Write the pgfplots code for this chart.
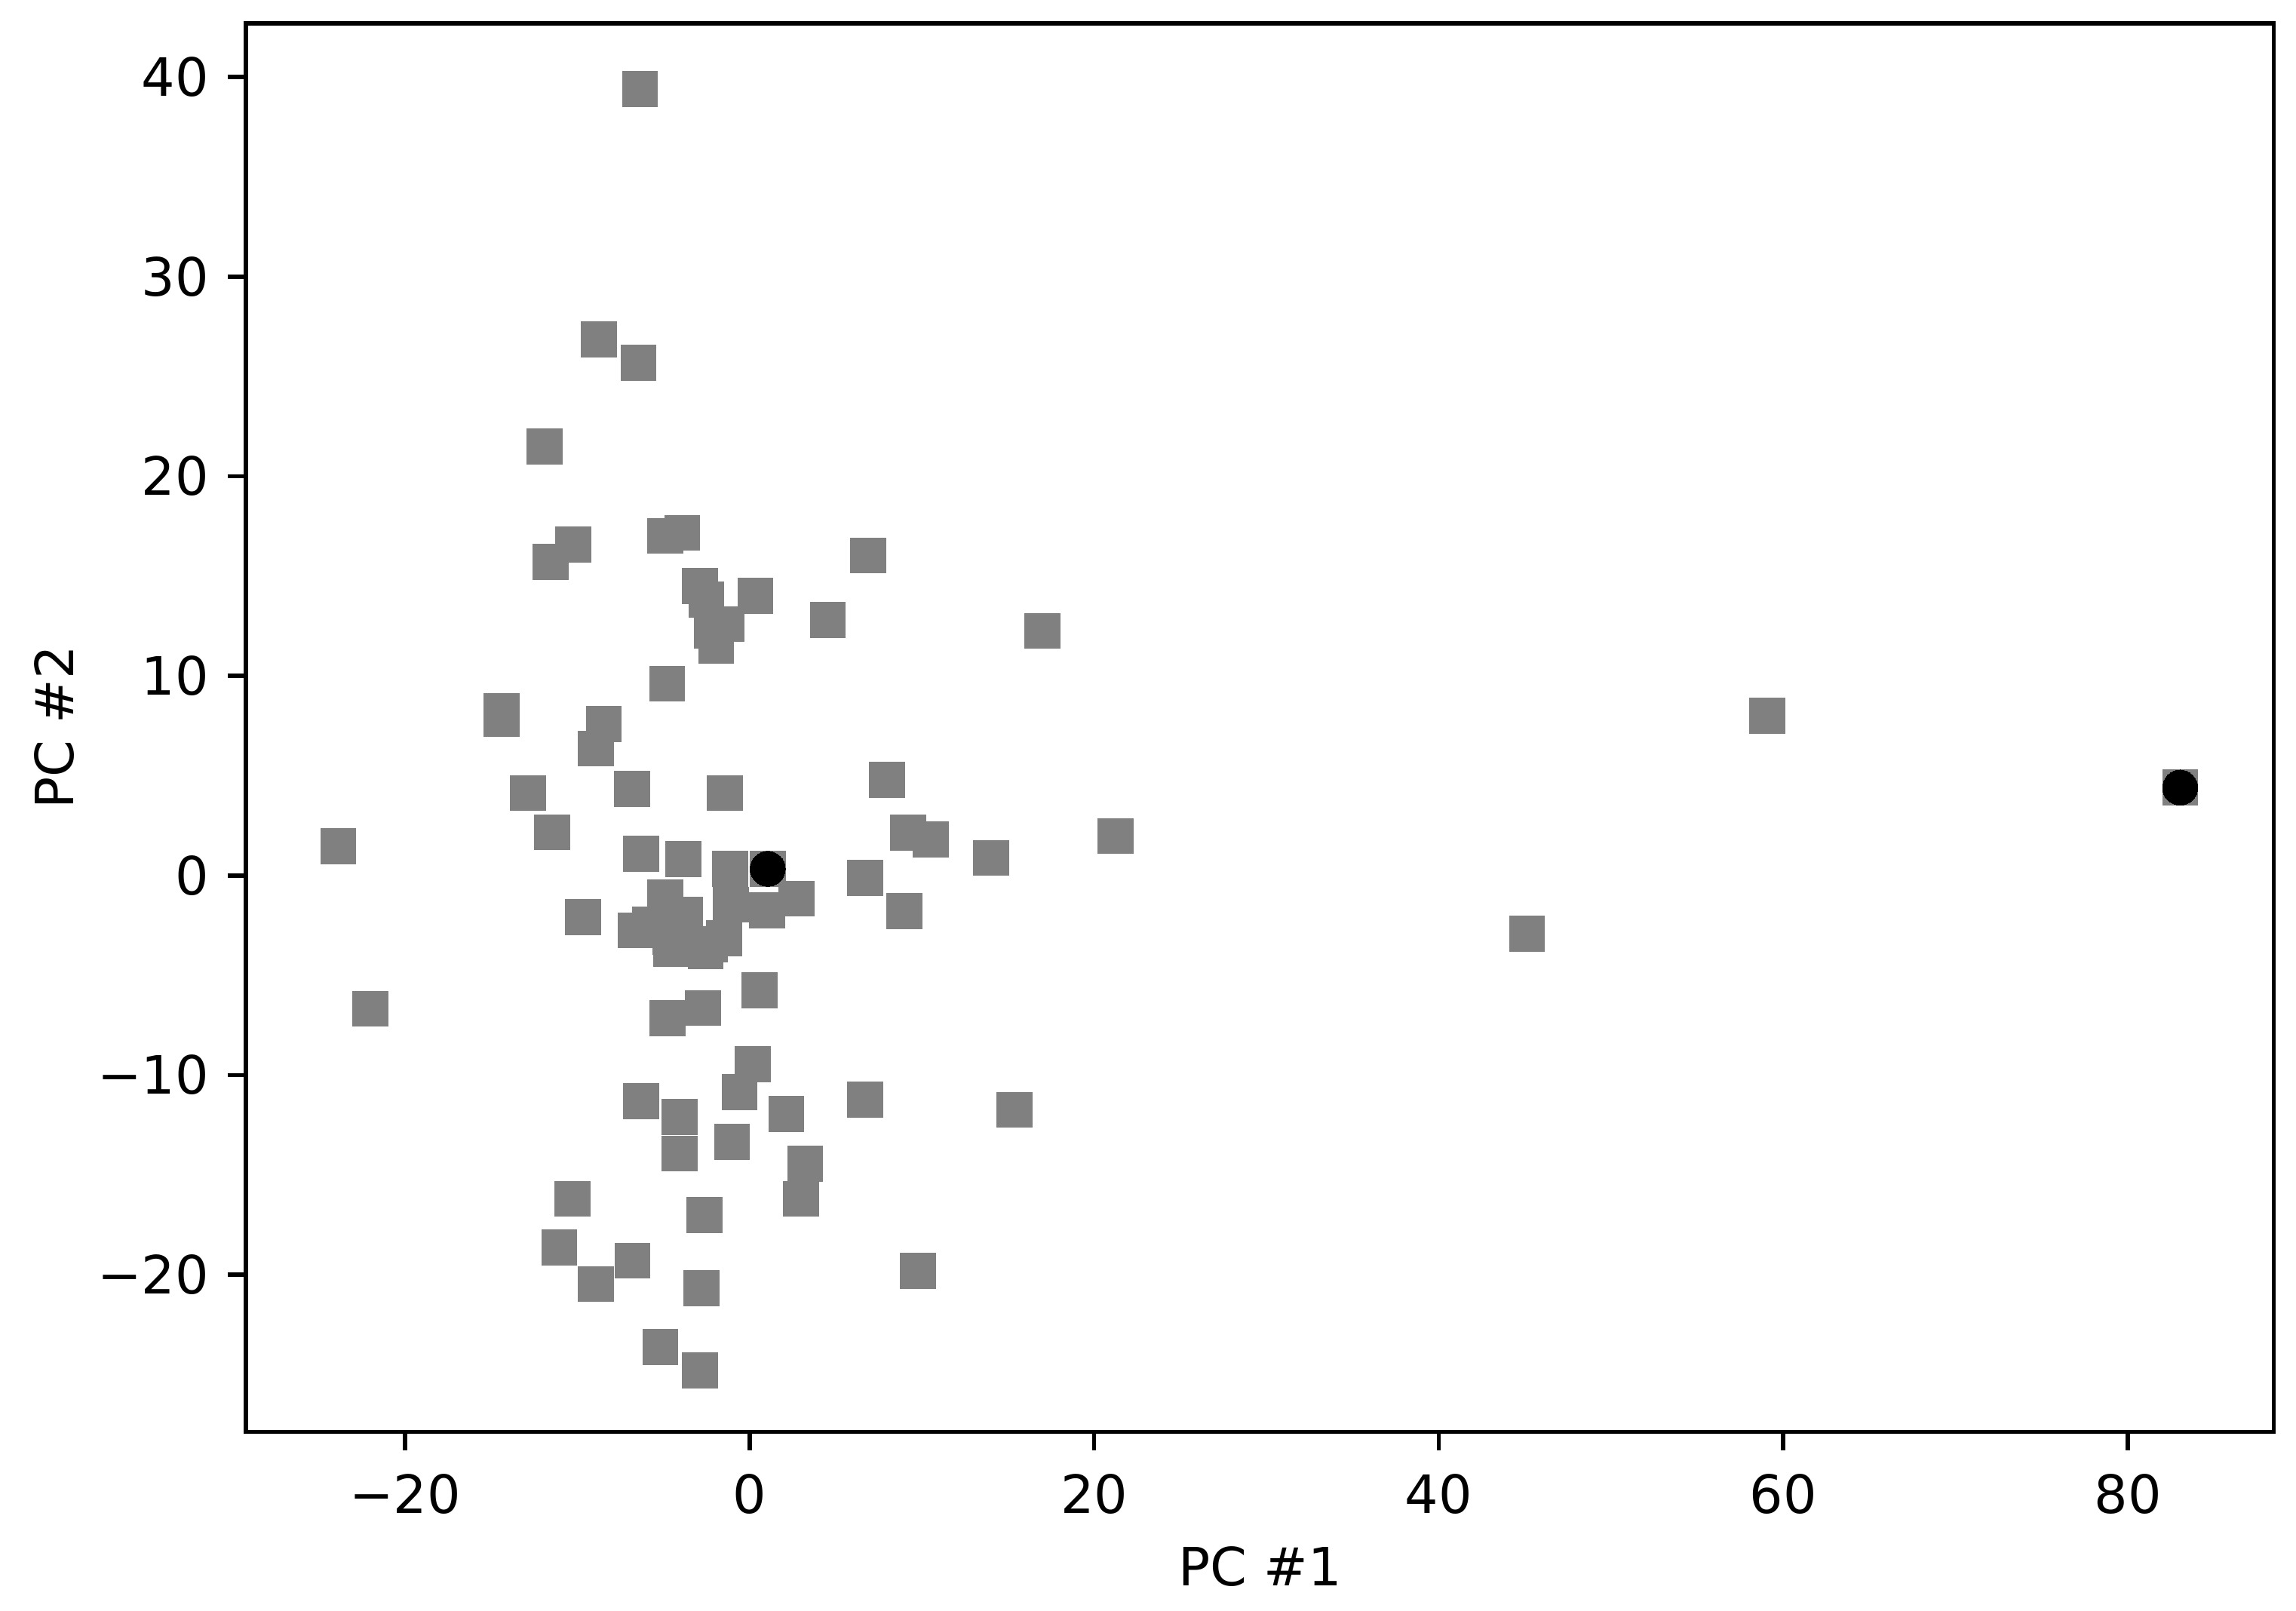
\documentclass[border=0pt]{standalone}
\usepackage{pgfplots}
\pgfplotsset{compat=1.18}
\usepackage{fontspec}
\setmainfont{DejaVu Sans}
\begin{document}
\begin{tikzpicture}
\begin{axis}[
  at={(0,0)}, anchor=south west,
  scale only axis, width=384.2pt, height=266.9pt,
  xmin=-29.24, xmax=88.48, ymin=-27.88, ymax=42.70,
  axis line style={line width=0.8pt},
  tick style={line width=0.8pt, black},
  tick align=outside, tick pos=left, major tick length=3.5pt,
  xtick={-20,0,20,40,60,80},
  xticklabels={−20,0,20,40,60,80},
  ytick={-20,-10,0,10,20,30,40},
  yticklabels={−20,−10,0,10,20,30,40},
  ticklabel style={font=\fontsize{10}{12}\selectfont},
  xticklabel style={yshift=-1pt},
  xlabel={PC \#1}, ylabel={PC \#2},
  label style={font=\fontsize{10}{12}\selectfont},
  xlabel style={at={(axis description cs:0.5,0)}, anchor=center, yshift=-25.5pt},
  ylabel style={at={(axis description cs:0,0.5)}, anchor=center, rotate=0, yshift=36.3pt},
]
\addplot[only marks, mark=square*, mark size=3.33pt, draw=none, mark options={fill=gray, draw=gray, line width=0pt}] coordinates {
(-6.37,39.40) (-8.75,26.85) (-6.46,25.68) (-11.90,21.50) (-10.24,16.58)
(-11.56,15.70) (-4.90,17.02) (-3.91,17.17) (6.88,16.03) (-2.89,14.50)
(-2.51,13.83) (0.34,14.01) (4.53,12.81) (-2.21,12.25) (-1.36,12.59)
(-1.95,11.52) (17.00,12.25) (-4.79,9.61) (-14.41,8.25) (-14.41,7.84)
(-8.47,7.59) (-8.92,6.35) (59.07,8.00) (7.97,4.78) (-12.87,4.12)
(-6.83,4.33) (-1.44,4.12) (83.04,4.40) (-11.47,2.16) (9.21,2.14)
(10.51,1.80) (21.25,1.98) (-23.88,1.47) (-6.30,1.09) (-3.85,0.82)
(14.02,0.88) (-1.14,0.33) (1.05,0.33) (6.70,-0.12) (-4.90,-1.10)
(-1.10,-1.47) (2.72,-1.17) (1.02,-1.75) (8.98,-1.79) (-9.66,-2.08)
(-3.74,-1.98) (-6.63,-2.75) (-5.78,-2.46) (-4.59,-3.08) (-2.29,-3.45)
(-2.55,-3.79) (-1.48,-3.15) (-4.55,-3.67) (45.13,-2.93) (-22.01,-6.68)
(-2.72,-6.65) (-4.76,-7.15) (0.57,-5.76) (0.17,-9.46) (-6.29,-11.30)
(-0.59,-10.86) (6.71,-11.23) (15.38,-11.74) (-4.08,-12.11) (2.12,-11.96)
(-1.02,-13.35) (-4.08,-13.94) (3.23,-14.45) (2.97,-16.21) (-10.28,-16.21)
(-2.63,-17.02) (-11.05,-18.64) (-6.80,-19.30) (9.77,-19.81) (-8.92,-20.47)
(-2.80,-20.69) (-5.18,-23.62) (-2.89,-24.80)
};
\addplot[only marks, mark=*, mark size=3.33pt, draw=none, mark options={fill=black, draw=black, line width=0pt}] coordinates {
(1.05,0.33) (83.04,4.40)
};
\end{axis}
\pgfresetboundingbox
\path (-46.6pt,-33.8pt) rectangle (388.4pt,271.3pt);
\end{tikzpicture}
\end{document}
